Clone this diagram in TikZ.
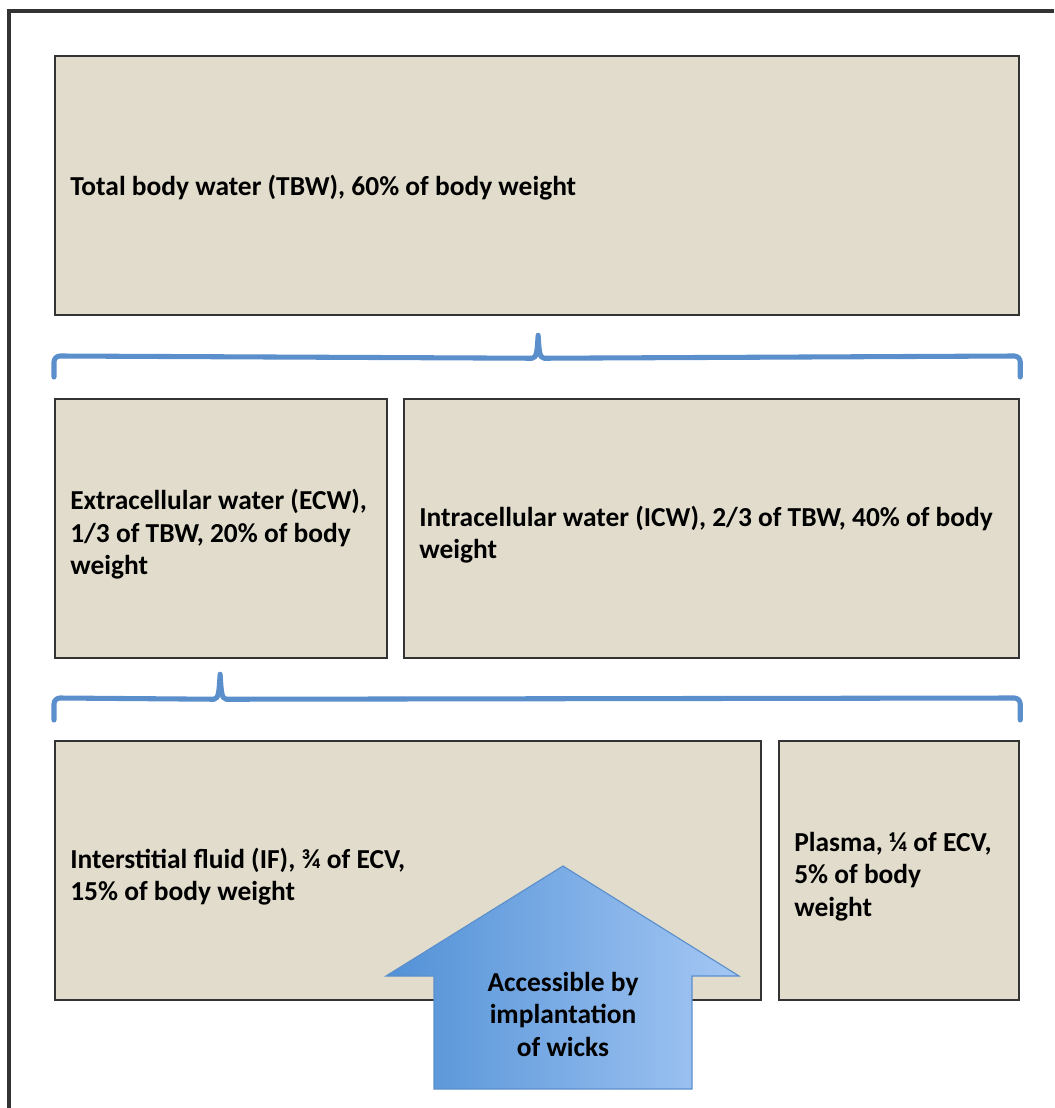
\documentclass[tikz,border=0pt]{standalone}
\usepackage{fontspec}
\setmainfont{Carlito}
\usepackage{tikz}
\usetikzlibrary{calc}
\usetikzlibrary{positioning}

\definecolor{boxfill}{HTML}{E1DCCC}
\definecolor{boxline}{HTML}{333333}
\definecolor{bracecol}{HTML}{5B8FCB}
\definecolor{wickdark}{HTML}{5291D6}
\definecolor{wicklight}{HTML}{A4C7F4}
\def\pxu{0.025cm}

\tikzset{
    water/.style={draw=boxline, line width=1.6pt, fill=boxfill, anchor=north west, inner sep=0pt},
    watertext/.style={anchor=west, align=left, inner sep=0pt, font=\fontsize{19.5}{23.1}\selectfont\bfseries},
    brace/.style={draw=bracecol, line width=3.6pt, line cap=round, line join=round},
}

\begin{document}
\begin{tikzpicture}[x=0.025cm,y=-0.025cm]
            \useasboundingbox (0,0) rectangle (1054,1108);
            % outer frame, open to the right and the bottom
            \draw[boxline, line width=2.2pt] (9,1108) -- (9,11) -- (1054,11);
            % the compartments
            \node[water, minimum width=964*\pxu, minimum height=259*\pxu] (tbw) at (54,55) {};
            \node[water, minimum width=332*\pxu, minimum height=259*\pxu] (ecw) at (54,398) {};
            \node[water, minimum width=615*\pxu, minimum height=259*\pxu] (icw) at (403,398) {};
            \node[water, minimum width=706*\pxu, minimum height=259*\pxu] (isf) at (54,740) {};
            \node[water, minimum width=240*\pxu, minimum height=259*\pxu] (plasma) at (778,740) {};
            \node[watertext] (tbwtext) at ($(tbw.west)+(16,2)$) {Total body water (TBW), 60\% of body weight};
            \node[watertext] (ecwtext) at ($(ecw.west)+(16,6)$) {Extracellular water (ECW),\\1/3 of TBW, 20\% of body\\weight};
            \node[watertext] (icwtext) at ($(icw.west)+(16,6)$) {Intracellular water (ICW), 2/3 of TBW, 40\% of body\\weight};
            \node[watertext] (isftext) at ($(isf.west)+(16,6)$) {Interstitial fluid (IF), ¾ of ECV,\\15\% of body weight};
            \node[watertext] (plasmatext) at ($(plasma.west)+(16,6)$) {Plasma, ¼ of ECV,\\5\% of body\\weight};
            % braces
            \coordinate (b1l) at ($(ecw.north west)+(0,-21)$);
            \coordinate (b1r) at ($(icw.north east)+(0,-21)$);
            \coordinate (b1t) at ($(tbw.south)+(1,19)$);
            \draw[brace] (b1l) -- ++(0,-15) arc[start angle=180, end angle=270, radius=6]
                -- ($(b1t)+(-6,23)$) .. controls ($(b1t)+(-1,23)$) and ($(b1t)+(-1,14)$) .. (b1t)
                .. controls ($(b1t)+(1,14)$) and ($(b1t)+(1,23)$) .. ($(b1t)+(6,23)$)
                -- ($(b1r)+(-6,-21)$) arc[start angle=270, end angle=360, radius=6] -- (b1r);
            \coordinate (b2l) at ($(isf.north west)+(0,-20)$);
            \coordinate (b2r) at ($(plasma.north east)+(0,-20)$);
            \coordinate (b2t) at ($(ecw.south)+(-1,15)$);
            \draw[brace] (b2l) -- ++(0,-16) arc[start angle=180, end angle=270, radius=6]
                -- ($(b2t)+(-6,25)$) .. controls ($(b2t)+(-1,25)$) and ($(b2t)+(-1,14)$) .. (b2t)
                .. controls ($(b2t)+(1,14)$) and ($(b2t)+(1,25)$) .. ($(b2t)+(6,25)$)
                -- ($(b2r)+(-6,-22)$) arc[start angle=270, end angle=360, radius=6] -- (b2r);
            % arrow
            \draw[bracecol, line width=0.8pt, left color=wickdark, right color=wicklight]
                (563,866) -- (739,976) -- (692,976) -- (692,1089) -- (434,1089) -- (434,976) -- (386,976) -- cycle;
            \node[watertext, anchor=center, align=center] (wicks) at (563,1014) {Accessible by\\implantation\\of wicks};
        \end{tikzpicture}
\end{document}
